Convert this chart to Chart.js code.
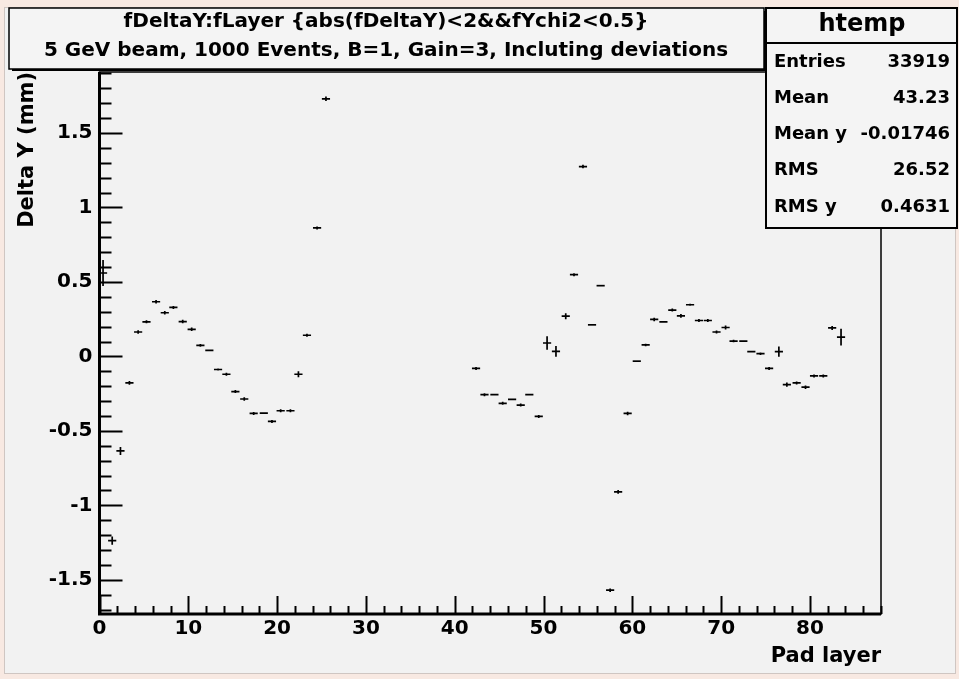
<!DOCTYPE html>
<html>
<head>
<meta charset="utf-8">
<script src="https://cdn.jsdelivr.net/npm/chart.js@4.4.1/dist/chart.umd.min.js"></script>
<style>
  html, body { margin: 0; padding: 0; background: #f2f2f2; }
  #wrap { width: 959px; height: 679px; }
</style>
</head>
<body>
<div id="wrap"><canvas id="profile" width="959" height="679"></canvas></div>
<script>
// profile points: bin centre (Pad layer), mean Delta Y, error on the mean
const layerX = [
  0.40, 1.43, 2.36, 3.37, 4.35, 5.29, 6.37, 7.35, 8.32, 9.37,
  10.38, 11.36, 12.37, 13.35, 14.29, 15.3, 16.3, 17.36, 18.5, 19.42,
  20.4, 21.5, 22.4, 23.36, 24.5, 25.5,
  42.4, 43.35, 44.47, 45.4, 46.46, 47.43, 48.4, 49.46, 50.4, 51.4,
  52.5, 53.43, 54.44, 55.46, 56.43, 57.5, 58.4, 59.47, 60.5, 61.5,
  62.46, 63.5, 64.5, 65.47, 66.5, 67.5, 68.5, 69.48, 70.5, 71.4,
  72.5, 73.4, 74.43, 75.4, 76.5, 77.4, 78.5, 79.5, 80.46, 81.5,
  82.5, 83.5
];
const deltaY = [
  0.56, -1.237, -0.635, -0.178, 0.164, 0.232, 0.367, 0.293, 0.329, 0.234,
  0.182, 0.074, 0.041, -0.088, -0.12, -0.236, -0.286, -0.383, -0.381, -0.437,
  -0.365, -0.365, -0.12, 0.142, 0.863, 1.73,
  -0.081, -0.257, -0.257, -0.315, -0.288, -0.327, -0.257, -0.403, 0.09, 0.034,
  0.27, 0.549, 1.275, 0.212, 0.475, -1.57, -0.91, -0.383, -0.032, 0.077,
  0.248, 0.232, 0.311, 0.272, 0.347, 0.241, 0.241, 0.164, 0.194, 0.103,
  0.103, 0.032, 0.018, -0.081, 0.032, -0.189, -0.178, -0.207, -0.131, -0.131,
  0.191, 0.13
];
const errY = [
  0.088, 0.028, 0.027, 0.012, 0.012, 0.01, 0.012, 0.012, 0.01, 0.012,
  0.012, 0.01, 0.006, 0.006, 0.01, 0.01, 0.012, 0.01, 0.006, 0.01,
  0.01, 0.01, 0.02, 0.01, 0.01, 0.015,
  0.01, 0.01, 0.006, 0.01, 0.006, 0.01, 0.006, 0.01, 0.045, 0.036,
  0.02, 0.01, 0.012, 0, 0, 0.012, 0.012, 0.012, 0, 0.008,
  0.012, 0.006, 0.01, 0.012, 0.006, 0.01, 0.01, 0.01, 0.014, 0.008,
  0.006, 0.006, 0.008, 0.01, 0.034, 0.014, 0.01, 0.012, 0.01, 0.01,
  0.014, 0.056
];
const errX = 0.46; // half bin width

const xTickValues = [0, 10, 20, 30, 40, 50, 60, 70, 80];
const xTickLabels = ['0', '10', '20', '30', '40', '50', '60', '70', '80'];
const yTickValues = [-1.5, -1, -0.5, 0, 0.5, 1, 1.5];
const yTickLabels = ['-1.5', '-1', '-0.5', '0', '0.5', '1', '1.5'];

const titleLines = [
  'fDeltaY:fLayer {abs(fDeltaY)<2&&fYchi2<0.5}',
  '5 GeV beam, 1000 Events, B=1, Gain=3, Incluting deviations'
];
const statsName = 'htemp';
const statsLabels = ['Entries', 'Mean', 'Mean y', 'RMS', 'RMS y'];
const statsValues = ['33919', '43.23', '-0.01746', '26.52', '0.4631'];

const FONT = '"DejaVu Sans", Verdana, sans-serif';

// page background + pink outer edge
const backdrop = {
  id: 'backdrop',
  beforeDraw(chart) {
    const ctx = chart.ctx;
    ctx.save();
    ctx.fillStyle = '#f8e9e2';
    ctx.fillRect(0, 0, chart.width, chart.height);
    ctx.fillStyle = '#f2f2f2';
    ctx.fillRect(4, 7, 952, 667);
    ctx.strokeStyle = '#cfc6c2';
    ctx.lineWidth = 1;
    ctx.strokeRect(4.5, 7.5, 951, 666);
    ctx.restore();
  }
};

// error bar crosses, placed through the chart scales
const errorBars = {
  id: 'errorBars',
  afterDatasetsDraw(chart) {
    const { ctx, scales: { x, y } } = chart;
    ctx.save();
    ctx.strokeStyle = '#000';
    ctx.lineWidth = 1.7;
    layerX.forEach((lx, i) => {
      const px = x.getPixelForValue(lx);
      const py = y.getPixelForValue(deltaY[i]);
      ctx.beginPath();
      ctx.moveTo(x.getPixelForValue(lx - errX), py);
      ctx.lineTo(x.getPixelForValue(lx + errX), py);
      if (errY[i] > 0) {
        ctx.moveTo(px, y.getPixelForValue(deltaY[i] - errY[i]));
        ctx.lineTo(px, y.getPixelForValue(deltaY[i] + errY[i]));
      }
      ctx.stroke();
    });
    ctx.restore();
  }
};

// ROOT style frame, inward ticks, axis titles, title box and stats box
const rootDecor = {
  id: 'rootDecor',
  afterDraw(chart) {
    const { ctx, chartArea: a, scales: { x, y } } = chart;
    ctx.save();
    ctx.strokeStyle = '#000';

    // frame
    ctx.lineWidth = 1.5;
    ctx.strokeRect(a.left, a.top, a.right - a.left, a.bottom - a.top);
    ctx.lineWidth = 3;
    ctx.beginPath();
    ctx.moveTo(a.left, a.top);
    ctx.lineTo(a.left, a.bottom);
    ctx.lineTo(a.right, a.bottom);
    ctx.stroke();

    // y ticks (major 0.5, minor 0.1), pointing into the frame
    ctx.lineWidth = 2;
    ctx.beginPath();
    for (let k = Math.ceil(y.min * 10); k <= Math.floor(y.max * 10); k++) {
      const py = Math.round(y.getPixelForValue(k / 10)) + 0.5;
      const len = k % 5 === 0 ? 23 : 12;
      ctx.moveTo(a.left, py);
      ctx.lineTo(a.left + len, py);
    }
    // x ticks (major 10, minor 2)
    for (let k = Math.ceil(x.min / 2); k <= Math.floor(x.max / 2); k++) {
      const px = Math.round(x.getPixelForValue(k * 2)) + 0.5;
      const len = k % 5 === 0 ? 18 : 8;
      ctx.moveTo(px, a.bottom);
      ctx.lineTo(px, a.bottom - len);
    }
    ctx.stroke();

    // axis titles
    ctx.fillStyle = '#000';
    ctx.font = 'bold 21px ' + FONT;
    ctx.textAlign = 'right';
    ctx.textBaseline = 'middle';
    ctx.fillText('Pad layer', a.right, 657);
    ctx.save();
    ctx.translate(28, a.top);
    ctx.rotate(-Math.PI / 2);
    ctx.fillText('Delta Y (mm)', 0, 0);
    ctx.restore();

    // title box
    ctx.fillStyle = '#000';
    ctx.fillRect(12, 68, 755, 3);
    ctx.fillRect(764, 11, 3, 60);
    ctx.fillStyle = '#f4f4f4';
    ctx.fillRect(9, 8, 755, 61);
    ctx.lineWidth = 1.5;
    ctx.strokeRect(9, 8, 755, 61);
    ctx.fillStyle = '#000';
    ctx.textAlign = 'center';
    ctx.font = 'bold 20px ' + FONT;
    ctx.fillText(titleLines[0], 386, 22);
    ctx.fillText(titleLines[1], 386, 51);

    // stats box
    ctx.fillStyle = '#f4f4f4';
    ctx.fillRect(766, 8, 191, 220);
    ctx.lineWidth = 2;
    ctx.strokeRect(766, 8, 191, 220);
    ctx.beginPath();
    ctx.moveTo(766, 43);
    ctx.lineTo(957, 43);
    ctx.stroke();
    ctx.fillStyle = '#000';
    ctx.font = 'bold 24px ' + FONT;
    ctx.fillText(statsName, 862, 25);
    ctx.font = 'bold 18px ' + FONT;
    const rowY = [62, 98, 134, 170, 207];
    statsLabels.forEach((lab, i) => {
      ctx.textAlign = 'left';
      ctx.fillText(lab, 774, rowY[i]);
      ctx.textAlign = 'right';
      ctx.fillText(statsValues[i], 950, rowY[i]);
    });
    ctx.restore();
  }
};

new Chart(document.getElementById('profile'), {
  type: 'scatter',
  data: {
    datasets: [{
      label: statsName,
      data: layerX.map((lx, i) => ({ x: lx, y: deltaY[i] })),
      pointRadius: 0,
      pointHoverRadius: 0,
      showLine: false
    }]
  },
  options: {
    responsive: false,
    devicePixelRatio: 1,
    animation: false,
    events: [],
    layout: { padding: { left: 0, top: 72, right: 78, bottom: 0 } },
    plugins: {
      legend: { display: false },
      tooltip: { enabled: false },
      title: { display: false }
    },
    scales: {
      x: {
        type: 'linear',
        min: 0,
        max: 88,
        grid: { display: false, drawTicks: false },
        border: { display: false },
        afterFit: (s) => { s.height = 65; },
        afterBuildTicks: (s) => { s.ticks = xTickValues.map(v => ({ value: v })); },
        ticks: {
          autoSkip: false,
          maxRotation: 0,
          padding: 3,
          color: '#000',
          font: { family: FONT, weight: 'bold', size: 20 },
          callback: (v) => xTickLabels[xTickValues.indexOf(v)]
        }
      },
      y: {
        type: 'linear',
        min: -1.73,
        max: 1.91,
        grid: { display: false, drawTicks: false },
        border: { display: false },
        afterFit: (s) => { s.width = 99.5; },
        afterBuildTicks: (s) => { s.ticks = yTickValues.map(v => ({ value: v })); },
        ticks: {
          autoSkip: false,
          padding: 7,
          color: '#000',
          font: { family: FONT, weight: 'bold', size: 20 },
          callback: (v) => yTickLabels[yTickValues.indexOf(v)]
        }
      }
    }
  },
  plugins: [backdrop, errorBars, rootDecor]
});
</script>
</body>
</html>
